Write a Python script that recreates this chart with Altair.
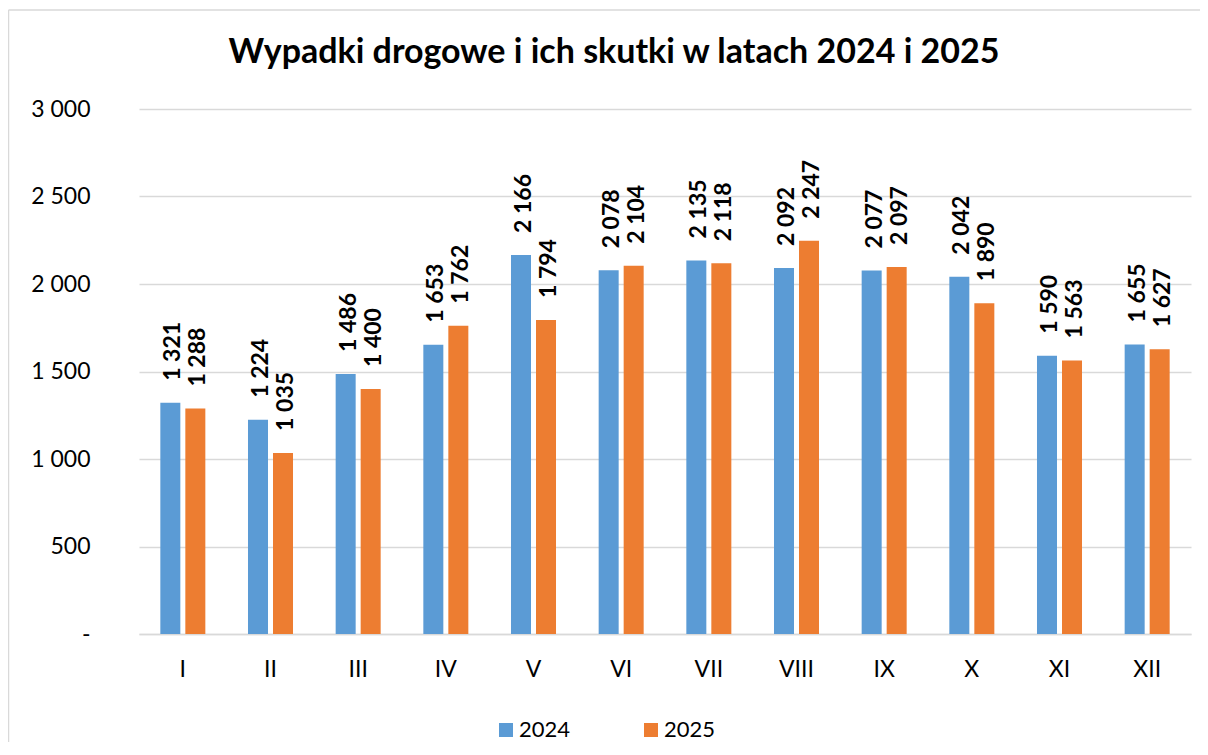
import altair as alt
import pandas as pd

months = ["I", "II", "III", "IV", "V", "VI", "VII", "VIII", "IX", "X", "XI", "XII"]
years = ["2024", "2025"]
v2024 = [1321, 1224, 1486, 1653, 2166, 2078, 2135, 2092, 2077, 2042, 1590, 1655]
v2025 = [1288, 1035, 1400, 1762, 1794, 2104, 2118, 2247, 2097, 1890, 1563, 1627]
y_ticks = [0, 500, 1000, 1500, 2000, 2500, 3000]
colors = ["#5B9BD5", "#ED7D31"]
title_text = "Wypadki drogowe i ich skutki w latach 2024 i 2025"

rows = []
for m, a, b in zip(months, v2024, v2025):
    rows.append({"month": m, "year": years[0], "value": a})
    rows.append({"month": m, "year": years[1], "value": b})
df = pd.DataFrame(rows)

W, H = 1052, 525
FONT = "Lato"
GRID = "#d9d9d9"

x = alt.X("month:N", sort=months,
          scale=alt.Scale(paddingInner=0, paddingOuter=0),
          axis=alt.Axis(title=None, labelAngle=0, ticks=False, grid=False,
                        domainColor=GRID, domainWidth=1.5,
                        labelFont=FONT, labelFontSize=23, labelColor="#000",
                        labelPadding=24, labelBaseline="top"))
xoff = alt.XOffset("year:N", sort=years,
                   scale=alt.Scale(paddingInner=0.2, paddingOuter=0.853))
y = alt.Y("value:Q", scale=alt.Scale(domain=[0, 3000], nice=False),
          axis=alt.Axis(title=None, values=y_ticks, domain=False, ticks=False,
                        gridColor=GRID, gridWidth=1.5,
                        labelFont=FONT, labelFontSize=23, labelColor="#000",
                        labelPadding=49,
                        labelExpr="datum.value == 0 ? '-\u00a0\u00a0\u00a0' : replace(format(datum.value, ',d'), ',', ' ')"))

bars = alt.Chart(df).mark_bar().encode(
    x=x, xOffset=xoff, y=y,
    color=alt.Color("year:N", sort=years,
                    scale=alt.Scale(domain=years, range=colors),
                    legend=alt.Legend(title=None, orient="none", legendX=356, legendY=610,
                                      direction="horizontal", symbolType="square",
                                      symbolSize=196, symbolStrokeWidth=0,
                                      labelFont=FONT, labelFontSize=22, labelColor="#000",
                                      labelOffset=2, columnPadding=69)),
)

labels = alt.Chart(df).transform_calculate(
    label="replace(format(datum.value, ',d'), ',', ' ')"
).mark_text(angle=270, align="left", baseline="middle", dx=22, dy=3,
            font=FONT, fontWeight="bold", fontSize=23, color="#000").encode(
    x=x, xOffset=xoff, y=y, text="label:N"
)

border_left = alt.Chart(alt.Data(values=[{}])).mark_rule(color=GRID, strokeWidth=1.5).encode(
    x=alt.value(-130.5), y=alt.value(-99), y2=alt.value(700))
border_top = alt.Chart(alt.Data(values=[{}])).mark_rule(color=GRID, strokeWidth=1.5).encode(
    x=alt.value(-130.5), x2=alt.value(1100), y=alt.value(-99))

chart = alt.layer(border_left, border_top, bars, labels).properties(
    width=W, height=H,
    title=alt.TitleParams(title_text, font=FONT, fontSize=34, fontWeight="bold",
                          color="#000", anchor="middle", dx=-51, offset=0,
                          baseline="alphabetic", dy=88),
    autosize=alt.AutoSizeParams(type="none"),
    padding={"left": 131, "top": 101, "right": 9, "bottom": 108},
).configure(background="white").configure_view(stroke=None)

chart.save("out.html", embed_options={"renderer": "svg", "actions": False})
